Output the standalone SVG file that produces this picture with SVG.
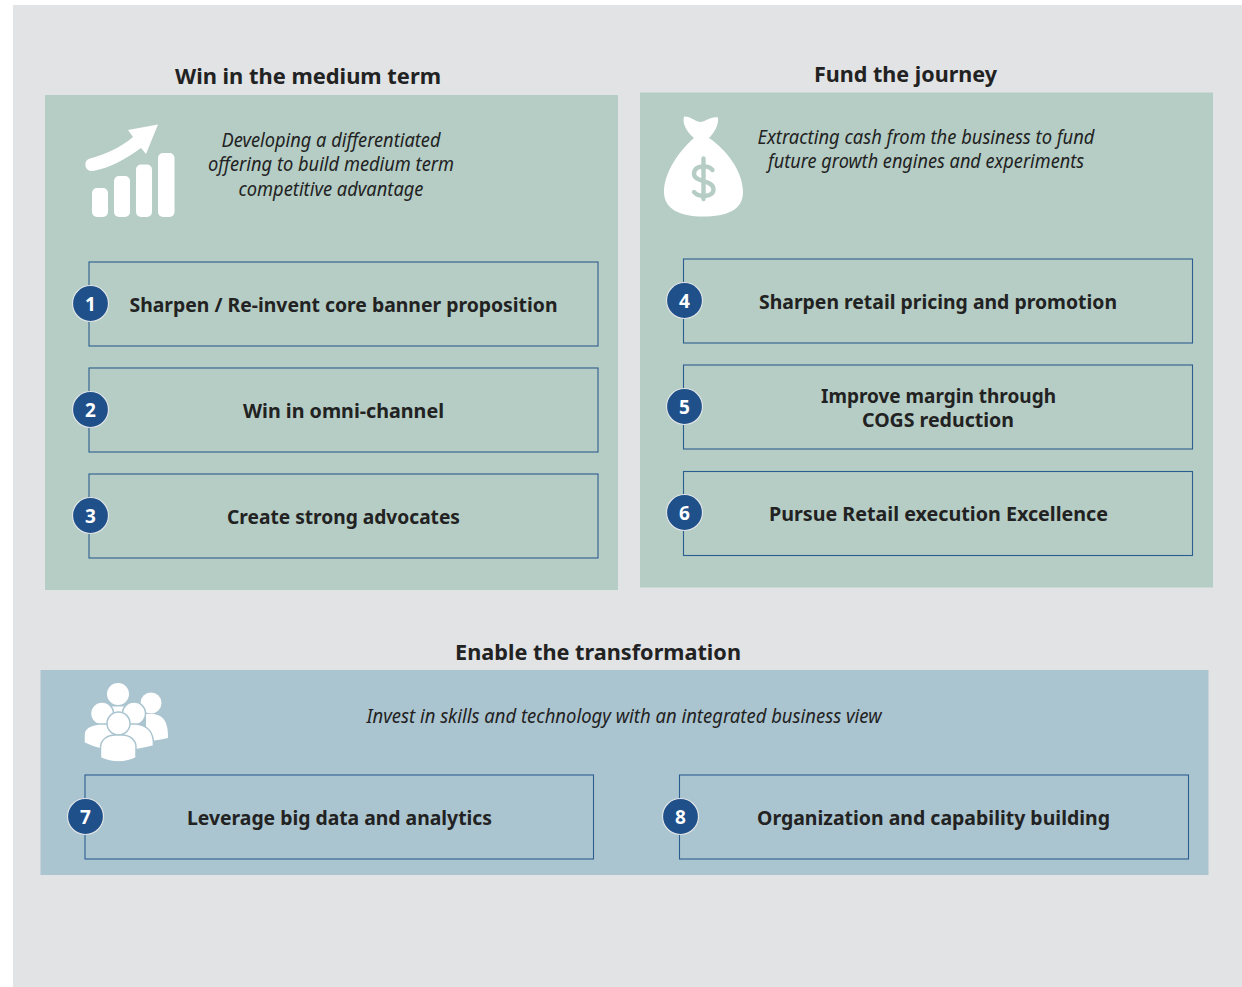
<svg xmlns="http://www.w3.org/2000/svg" width="1242" height="987" viewBox="0 0 1242 987">
<defs><style>
text{font-family:"Noto Sans","Open Sans","Liberation Sans",sans-serif;fill:#222;text-anchor:middle}
.h{font-size:22px;font-weight:700}
.b{font-size:20px;font-weight:700}
.i{font-size:19px;font-style:italic}
.box{fill:none;stroke:#2c5d8f;stroke-width:1.1}
.c{fill:#20508a;stroke:#dfe4e6;stroke-width:1.2}
.n{font-size:19px;font-weight:700;fill:#fff}
.w{fill:#fff}
</style></defs>
<rect x="13" y="5" width="1229" height="982" fill="#e1e3e5"/>
<g id="panel-win">
<rect x="45" y="95" width="573" height="495" fill="#b5cdc5"/>
<text class="h" x="308" y="84" textLength="266" lengthAdjust="spacingAndGlyphs">Win in the medium term</text>
<g id="icon-chart" class="w">
<rect x="92" y="188" width="16" height="29" rx="5"/><rect x="114" y="176" width="16" height="41" rx="5"/><rect x="136" y="164.500" width="16" height="52.500" rx="5"/><rect x="158" y="153" width="16.500" height="64" rx="5"/>
<path d="M90 158.500C106 154.500 121 147 133 137L128 130L158 124.500L146 154L141 148C126 159 110 168 93 171C84 172 83 160 90 158.500Z"/>
</g>
<text class="i" x="331" y="147" textLength="219" lengthAdjust="spacingAndGlyphs">Developing a differentiated</text>
<text class="i" x="331" y="171" textLength="246" lengthAdjust="spacingAndGlyphs">offering to build medium term</text>
<text class="i" x="331" y="196" textLength="185" lengthAdjust="spacingAndGlyphs">competitive advantage</text>
</g>
<g id="panel-fund">
<rect x="640" y="92.500" width="573" height="495" fill="#b5cdc5"/>
<text class="h" x="905.500" y="82" textLength="183" lengthAdjust="spacingAndGlyphs">Fund the journey</text>
<g id="icon-bag">
<path class="w" d="M684 116.500C690 116 696 122 700.500 122C705 122 711 116 718 117.500C719 125 714 133 709 138C727 150 743 172 743 192C743 210 727 216.500 703 216.500C680 216.500 664 209 664 192C664 172 680 150 694 138C687 132 682 124 684 116.500Z"/>
<path d="M712.500 170C708 164.500 694.500 165 694 173.500C693.500 183 713.500 179 713.500 189.500C713.500 197 699.500 198 694 192M703.500 158.500V199" fill="none" stroke="#b5cdc5" stroke-width="4.400" stroke-linecap="round"/>
</g>
<text class="i" x="926" y="144" textLength="337" lengthAdjust="spacingAndGlyphs">Extracting cash from the business to fund</text>
<text class="i" x="926" y="168" textLength="316" lengthAdjust="spacingAndGlyphs">future growth engines and experiments</text>
</g>
<g id="panel-enable">
<rect x="40.500" y="670" width="1168" height="205" fill="#abc5d0"/>
<text class="h" x="598" y="660" textLength="286" lengthAdjust="spacingAndGlyphs">Enable the transformation</text>
<g id="icon-people" class="w" stroke="#abc5d0" stroke-width="1.500">
<circle cx="118" cy="694" r="11" stroke="none"/>
<rect x="112" y="706.500" width="13" height="10" stroke="none"/>
<circle cx="151" cy="703" r="10.500" stroke="none"/>
<path d="M146 714H154C164 716 168 722 168 738C160 740 152 741 146 741Z" stroke="none"/>
<circle cx="102" cy="713.500" r="11.500"/>
<path d="M84 735C84 728 90 725 99 724H118V751C106 751 94 748 84 743Z"/>
<circle cx="134" cy="713.500" r="11.500"/>
<path d="M118 724H136C148 725 154 733 153.500 746C143 749 130 751 118 751Z"/>
<circle cx="118.500" cy="723.500" r="11.500"/>
<path d="M100.500 747C101 739 108 735 115 735H122C130 735 136 740 136 747V758C125 763 112 763 100.500 758Z"/>
</g>
<text class="i" x="624" y="723" textLength="515" lengthAdjust="spacingAndGlyphs">Invest in skills and technology with an integrated business view</text>
</g>
<g id="item-1"><rect class="box" x="89" y="262" width="509" height="84"/><circle class="c" cx="90.500" cy="303.500" r="18"/><text class="n" x="90.500" y="310.500">1</text><text class="b" x="343.500" y="312" textLength="428" lengthAdjust="spacingAndGlyphs">Sharpen / Re-invent core banner proposition</text></g>
<g id="item-2"><rect class="box" x="89" y="368" width="509" height="84"/><circle class="c" cx="90.500" cy="409.500" r="18"/><text class="n" x="90.500" y="416.500">2</text><text class="b" x="343.500" y="418" textLength="201" lengthAdjust="spacingAndGlyphs">Win in omni-channel</text></g>
<g id="item-3"><rect class="box" x="89" y="474" width="509" height="84"/><circle class="c" cx="90.500" cy="515.500" r="18"/><text class="n" x="90.500" y="522.500">3</text><text class="b" x="343.500" y="524" textLength="233" lengthAdjust="spacingAndGlyphs">Create strong advocates</text></g>
<g id="item-4"><rect class="box" x="683.500" y="259" width="509" height="84"/><circle class="c" cx="684.500" cy="300.500" r="18"/><text class="n" x="684.500" y="307.500">4</text><text class="b" x="938" y="309" textLength="358" lengthAdjust="spacingAndGlyphs">Sharpen retail pricing and promotion</text></g>
<g id="item-5"><rect class="box" x="683.500" y="365" width="509" height="84"/><circle class="c" cx="684.500" cy="406.500" r="18"/><text class="n" x="684.500" y="413.500">5</text><text class="b"><tspan x="938.500" y="403" textLength="235" lengthAdjust="spacingAndGlyphs">Improve margin through</tspan><tspan x="938" y="427" textLength="152" lengthAdjust="spacingAndGlyphs">COGS reduction</tspan></text></g>
<g id="item-6"><rect class="box" x="683.500" y="471.500" width="509" height="84"/><circle class="c" cx="684.500" cy="512.500" r="18"/><text class="n" x="684.500" y="519.500">6</text><text class="b" x="938.500" y="521" textLength="339" lengthAdjust="spacingAndGlyphs">Pursue Retail execution Excellence</text></g>
<g id="item-7"><rect class="box" x="85" y="775" width="508.500" height="84"/><circle class="c" cx="85.500" cy="816.500" r="18"/><text class="n" x="85.500" y="823.500">7</text><text class="b" x="339.500" y="825" textLength="305" lengthAdjust="spacingAndGlyphs">Leverage big data and analytics</text></g>
<g id="item-8"><rect class="box" x="679.500" y="775" width="509" height="84"/><circle class="c" cx="680.500" cy="816.500" r="18"/><text class="n" x="680.500" y="823.500">8</text><text class="b" x="933.500" y="825" textLength="353" lengthAdjust="spacingAndGlyphs">Organization and capability building</text></g>
<g id="connectors"/>
</svg>
